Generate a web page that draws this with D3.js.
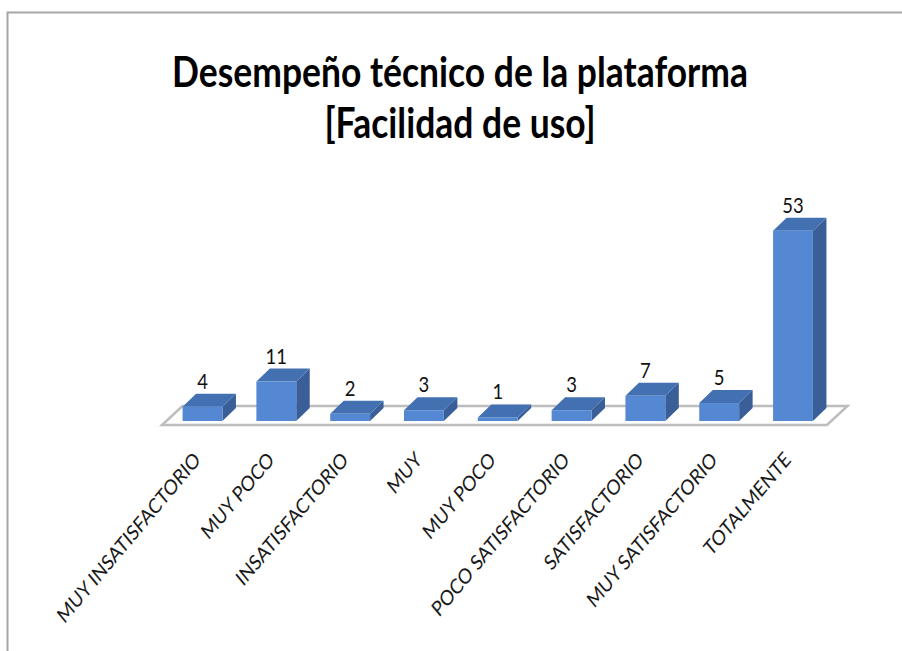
<!DOCTYPE html>
<html><head><meta charset="utf-8">
<script src="https://cdn.jsdelivr.net/npm/d3@7"></script>
<style>body{margin:0;background:#fff} svg{display:block}</style>
</head><body>
<svg id="c" width="902" height="651"></svg>
<script>
const categories = ["MUY INSATISFACTORIO","MUY POCO","INSATISFACTORIO","MUY","MUY POCO","POCO SATISFACTORIO","SATISFACTORIO","MUY SATISFACTORIO","TOTALMENTE"];
const values = [4, 11, 2, 3, 1, 3, 7, 5, 53];
const titleLines = ["Desempeño técnico de la plataforma", "[Facilidad de uso]"];

const svg = d3.select("#c");
const squeeze = 0.84;

// frame
svg.append("rect").attr("x", 7.5).attr("y", 12.5).attr("width", 1000).attr("height", 1000)
  .attr("fill", "#fff").attr("stroke", "#a6a6a6").attr("stroke-width", 2);

// title
const t1 = svg.append("text").attr("text-anchor", "middle")
  .attr("font-family", "Lato").attr("font-weight", "bold").attr("font-size", 42).attr("fill", "#000")
  .text(titleLines[0]);
const w1 = t1.node().getComputedTextLength();
const k = 576 / w1;
t1.attr("transform", `translate(460,87) scale(${k},1)`);
svg.append("text").attr("text-anchor", "middle")
  .attr("font-family", "Lato").attr("font-weight", "bold").attr("font-size", 42).attr("fill", "#000")
  .attr("transform", `translate(460,138) scale(${k},1)`)
  .text(titleLines[1]);

// scales
const idx = d3.range(categories.length);
const x = d3.scalePoint().domain(idx).range([202.5, 793]);
const bw = x.step() * 0.54;
const y = d3.scaleLinear().domain([0, 53]).range([421, 230.7]);
const dx = 13.5, dy = -13;

// floor
const fl = 162, fr = 827, fy = 425, fdx = 20.5, fdy = -19;
svg.append("polygon")
  .attr("points", [[fl, fy], [fr, fy], [fr + fdx, fy + fdy], [fl + fdx, fy + fdy]].map(p => p.join(",")).join(" "))
  .attr("fill", "#fff").attr("stroke", "#bdbdbd").attr("stroke-width", 2.5).attr("stroke-linejoin", "miter");

const bars = svg.append("g").selectAll("g").data(idx).join("g");
const pts = a => a.map(p => p.join(",")).join(" ");
bars.append("polygon").attr("fill", "#3a5f98").attr("points", i => {
  const r = x(i) + bw / 2;
  return pts([[r, y(values[i])], [r + dx, y(values[i]) + dy], [r + dx, y(0) + dy], [r, y(0)]]);
});
bars.append("polygon").attr("fill", "#4270b0").attr("points", i => {
  const l = x(i) - bw / 2, r = x(i) + bw / 2, t = y(values[i]);
  return pts([[l, t], [r, t], [r + dx, t + dy], [l + dx, t + dy]]);
});
bars.append("rect").attr("fill", "#5488d2")
  .attr("x", i => x(i) - bw / 2).attr("y", i => y(values[i]))
  .attr("width", bw).attr("height", i => y(0) - y(values[i]));

// value labels
svg.append("g").selectAll("text").data(idx).join("text")
  .attr("text-anchor", "middle").attr("font-family", "Lato").attr("font-size", 22).attr("fill", "#111")
  .attr("transform", i => `translate(${x(i)},${y(values[i]) + dy - 5}) scale(${squeeze},1)`)
  .text(i => values[i]);

// category labels
svg.append("g").selectAll("text").data(idx).join("text")
  .attr("text-anchor", "end").attr("font-family", "Lato").attr("font-size", 21).attr("fill", "#1a1a1a")
  .attr("transform", i => `translate(${x(i) - 1},461) scale(${squeeze},1) rotate(-45)`)
  .text(i => categories[i]);
</script>
</body></html>
